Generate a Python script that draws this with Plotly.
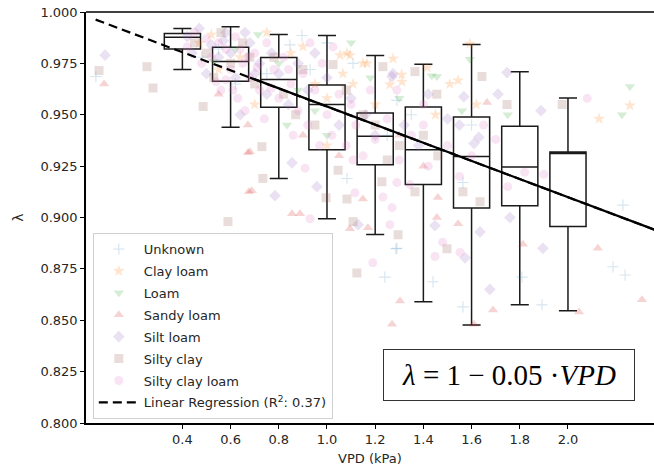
import plotly.graph_objects as go

# ---------------- data ----------------
box_pos = [0.4, 0.6, 0.8, 1.0, 1.2, 1.4, 1.6, 1.8, 2.0]
box_low = [0.972, 0.9439, 0.919, 0.8994, 0.8917, 0.859, 0.8477, 0.8575, 0.8546]
box_q1 = [0.982, 0.9663, 0.9536, 0.933, 0.9257, 0.916, 0.9046, 0.9057, 0.8956]
box_med = [0.9877, 0.9759, 0.9671, 0.955, 0.9395, 0.933, 0.9297, 0.9246, 0.9311]
box_q3 = [0.9895, 0.9829, 0.9778, 0.9645, 0.9509, 0.9538, 0.9489, 0.9444, 0.9319]
box_high = [0.992, 0.9928, 0.989, 0.9886, 0.9788, 0.9746, 0.9842, 0.9709, 0.9582]

reg_x = [0.04, 2.36]
reg_y = [0.9963, 0.894]
reg_solid_x = [0.68, 2.36]
reg_solid_y = [0.9681, 0.894]

unknown_x = [0.041, 0.48, 0.846, 0.896, 0.93, 1.083, 1.108, 1.24, 1.286, 1.29, 1.29, 1.44, 1.564, 1.564, 1.60, 1.809, 1.892, 2.187, 2.228, 2.237, 0.75, 1.00, 1.35, 1.25, 0.62, 0.55]
unknown_y = [0.9686, 0.978, 0.984, 0.9886, 0.972, 0.919, 0.975, 0.871, 0.8848, 0.957, 0.885, 0.8687, 0.8565, 0.917, 0.945, 0.871, 0.8575, 0.876, 0.906, 0.872, 0.970, 0.985, 0.950, 0.940, 0.965, 0.982]

clay_loam_x = [0.52, 0.55, 0.70, 0.75, 0.85, 0.90, 0.95, 1.00, 1.054, 1.066, 1.083, 1.095, 1.108, 1.149, 1.166, 1.261, 1.274, 1.311, 1.31, 1.415, 1.51, 1.544, 1.593, 1.45, 1.20, 2.129, 2.257, 1.62, 1.00, 0.64, 0.47]
clay_loam_y = [0.989, 0.972, 0.955, 0.990, 0.980, 0.9832, 0.965, 0.958, 0.979, 0.970, 0.980, 0.979, 0.965, 0.975, 0.975, 0.9647, 0.9773, 0.966, 0.9695, 0.973, 0.965, 0.9667, 0.9846, 0.950, 0.955, 0.948, 0.9545, 0.955, 0.935, 0.978, 0.985]

loam_x = [0.714, 0.80, 0.834, 0.88, 1.00, 1.10, 1.18, 1.30, 1.435, 1.456, 1.56, 1.593, 1.75, 2.224, 2.257, 0.62, 0.95, 0.53]
loam_y = [0.989, 0.975, 0.945, 0.962, 0.940, 0.985, 0.968, 0.958, 0.969, 0.9686, 0.952, 0.977, 0.950, 0.950, 0.9637, 0.982, 0.952, 0.976]

sandy_loam_x = [0.075, 0.672, 0.68, 0.672, 0.676, 0.688, 0.855, 0.888, 1.149, 1.095, 1.17, 1.303, 1.27, 1.456, 1.46, 1.544, 1.61, 1.664, 1.689, 1.813, 2.046, 2.124, 2.307, 0.90, 1.05, 1.30, 1.40, 0.55]
sandy_loam_y = [0.965, 0.945, 0.932, 0.9315, 0.9125, 0.913, 0.9018, 0.9018, 0.909, 0.8945, 0.895, 0.8594, 0.848, 0.900, 0.9097, 0.897, 0.848, 0.956, 0.855, 0.887, 0.854, 0.885, 0.860, 0.940, 0.930, 0.940, 0.925, 0.960]

silt_loam_x = [0.079, 0.42, 0.47, 0.52, 0.55, 0.58, 0.62, 0.64, 0.68, 0.72, 0.75, 0.77, 0.80, 0.84, 0.855, 0.784, 0.88, 0.92, 0.958, 1.00, 1.05, 1.10, 1.129, 1.16, 1.20, 1.27, 1.274, 1.32, 1.38, 1.448, 1.50, 1.568, 1.573, 1.61, 1.63, 1.635, 1.676, 1.71, 1.747, 1.759, 1.888, 1.896, 1.55, 0.50, 0.95, 1.42, 0.44, 0.57, 0.66, 0.70, 0.60]
silt_loam_y = [0.979, 0.988, 0.992, 0.984, 0.978, 0.990, 0.968, 0.950, 0.985, 0.975, 0.960, 0.980, 0.970, 0.955, 0.9266, 0.9106, 0.975, 0.962, 0.915, 0.968, 0.945, 0.958, 0.8965, 0.950, 0.940, 0.9686, 0.970, 0.945, 0.935, 0.896, 0.948, 0.9588, 0.8804, 0.936, 0.939, 0.893, 0.865, 0.960, 0.9705, 0.900, 0.952, 0.885, 0.945, 0.970, 0.980, 0.960, 0.980, 0.986, 0.990, 0.970, 0.980]

silty_clay_x = [0.054, 0.253, 0.278, 0.486, 0.45, 0.50, 0.56, 0.60, 0.589, 0.65, 0.70, 0.73, 0.734, 0.78, 0.82, 0.87, 0.90, 0.996, 1.004, 1.025, 1.046, 1.083, 1.108, 1.124, 1.15, 1.20, 1.228, 1.232, 1.295, 1.30, 1.365, 1.365, 1.40, 1.456, 1.46, 1.498, 1.564, 1.635, 1.643, 1.747, 1.976, 1.08, 0.95, 1.25, 0.53, 0.68]
silty_clay_y = [0.9715, 0.9734, 0.963, 0.954, 0.985, 0.980, 0.990, 0.975, 0.898, 0.985, 0.965, 0.9345, 0.919, 0.978, 0.960, 0.950, 0.972, 0.9096, 0.8755, 0.9744, 0.923, 0.909, 0.898, 0.873, 0.950, 0.945, 0.9174, 0.9734, 0.8916, 0.935, 0.9125, 0.971, 0.940, 0.960, 0.930, 0.8848, 0.9125, 0.9077, 0.9686, 0.955, 0.955, 0.962, 0.945, 0.928, 0.968, 0.978]

silty_clay_loam_x = [0.45, 0.50, 0.55, 0.52, 0.58, 0.62, 0.60, 0.65, 0.68, 0.70, 0.72, 0.75, 0.78, 0.80, 0.82, 0.85, 0.88, 0.90, 0.92, 0.95, 0.98, 1.00, 1.02, 1.025, 1.05, 1.08, 1.10, 1.12, 1.15, 1.18, 1.20, 1.25, 1.29, 1.30, 1.35, 1.40, 1.42, 1.50, 1.55, 1.65, 1.75, 1.82, 1.90, 2.08, 0.909, 0.93, 1.108, 1.116, 1.232, 1.27, 1.29, 1.344, 1.261, 1.19, 1.448, 1.48, 1.552, 0.56, 0.63, 0.66, 0.74, 0.48, 0.42, 0.86, 0.97, 1.60, 1.70, 1.40, 0.93, 0.54, 0.61, 0.67, 0.71, 0.77, 0.84, 0.58, 0.64]
silty_clay_loam_y = [0.990, 0.987, 0.985, 0.978, 0.982, 0.988, 0.972, 0.975, 0.968, 0.980, 0.962, 0.985, 0.972, 0.958, 0.978, 0.965, 0.952, 0.970, 0.945, 0.962, 0.975, 0.950, 0.940, 0.983, 0.960, 0.935, 0.955, 0.945, 0.930, 0.962, 0.938, 0.948, 0.962, 0.928, 0.940, 0.955, 0.925, 0.935, 0.920, 0.945, 0.915, 0.922, 0.921, 0.958, 0.924, 0.8994, 0.928, 0.912, 0.910, 0.9048, 0.917, 0.916, 0.8965, 0.878, 0.881, 0.888, 0.883, 0.962, 0.958, 0.952, 0.948, 0.975, 0.983, 0.940, 0.935, 0.930, 0.938, 0.945, 0.985, 0.966, 0.962, 0.978, 0.973, 0.963, 0.972, 0.967, 0.982]

x_ticks = [0.4, 0.6, 0.8, 1.0, 1.2, 1.4, 1.6, 1.8, 2.0]
y_ticks = [0.800, 0.825, 0.850, 0.875, 0.900, 0.925, 0.950, 0.975, 1.000]

series = [
    ("Unknown", unknown_x, unknown_y, "cross-thin", "#1f77b4"),
    ("Clay loam", clay_loam_x, clay_loam_y, "star", "#ff7f0e"),
    ("Loam", loam_x, loam_y, "triangle-down", "#2ca02c"),
    ("Sandy loam", sandy_loam_x, sandy_loam_y, "triangle-up", "#d62728"),
    ("Silt loam", silt_loam_x, silt_loam_y, "diamond", "#9467bd"),
    ("Silty clay", silty_clay_x, silty_clay_y, "square", "#8c564b"),
    ("Silty clay loam", silty_clay_loam_x, silty_clay_loam_y, "circle", "#e377c2"),
]

fig = go.Figure()

for i, (name, xs, ys, sym, col) in enumerate(series):
    is_cross = sym == "cross-thin"
    fig.add_trace(go.Scatter(
        x=xs, y=ys, mode="markers", name=name, legendgroup=f"g{i}",
        marker=dict(symbol=sym, color=col, size=8 if is_cross else 9,
                    opacity=0.18 if is_cross else 0.2,
                    line=dict(color=col, width=1.1 if is_cross else 0)),
    ))

fig.add_trace(go.Scatter(
    x=reg_x, y=reg_y, mode="lines", name="Linear Regression (R<sup>2</sup>: 0.37)",
    legendgroup="g7", line=dict(color="black", width=2.2, dash="9px,5px"),
))
fig.add_trace(go.Scatter(
    x=reg_solid_x, y=reg_solid_y, mode="lines", showlegend=False,
    legendgroup="g8", line=dict(color="black", width=2.3),
))

fig.add_trace(go.Box(
    x=box_pos, q1=box_q1, median=box_med, q3=box_q3,
    lowerfence=box_low, upperfence=box_high,
    width=0.15, whiskerwidth=0.5, fillcolor="rgba(0,0,0,0)",
    line=dict(color="#1a1a1a", width=1.5), showlegend=False, boxpoints=False,
    legendgroup="g9", hoverinfo="skip",
))

fig.add_annotation(
    x=1.755, y=0.8234, xref="x", yref="y",
    text="<i>λ</i> = 1 − 0.05 ·<i>VPD</i>", showarrow=False,
    font=dict(family="Liberation Serif", size=29, color="black"),
    bordercolor="#333", borderwidth=1, bgcolor="white",
    width=248, height=48,
)

fig.add_shape(type="line", xref="paper", yref="paper", x0=0, x1=1, y0=1, y1=1,
              line=dict(color="black", width=1.5))

fig.update_layout(
    width=654, height=473,
    margin=dict(l=86, r=0, t=12, b=50),
    paper_bgcolor="white", plot_bgcolor="white",
    font=dict(family="DejaVu Sans", size=13, color="#262626"),
    showlegend=True,
    legend=dict(x=0.012, y=0.462, xanchor="left", yanchor="top",
                bgcolor="white", bordercolor="#d0d0d0", borderwidth=1,
                font=dict(size=13, color="#262626"), tracegroupgap=2,
                itemwidth=40, traceorder="grouped"),
    xaxis=dict(range=[0, 2.357], tickvals=x_ticks, ticktext=[f"{v:.1f}" for v in x_ticks],
               showline=True, linecolor="black", linewidth=1.5, ticks="outside",
               ticklen=4, tickcolor="black", showgrid=False, zeroline=False,
               tickfont=dict(size=13),
               title=dict(text="VPD (kPa)", standoff=8, font=dict(size=13))),
    yaxis=dict(range=[0.8, 1.0], tickvals=y_ticks, ticktext=[f"{v:.3f}" for v in y_ticks],
               showline=True, linecolor="black", linewidth=1.5, ticks="outside",
               ticklen=4, tickcolor="black", showgrid=False, zeroline=False,
               tickfont=dict(size=13),
               title=dict(text="λ", standoff=14, font=dict(size=14))),
)

fig.write_html("out.html")
